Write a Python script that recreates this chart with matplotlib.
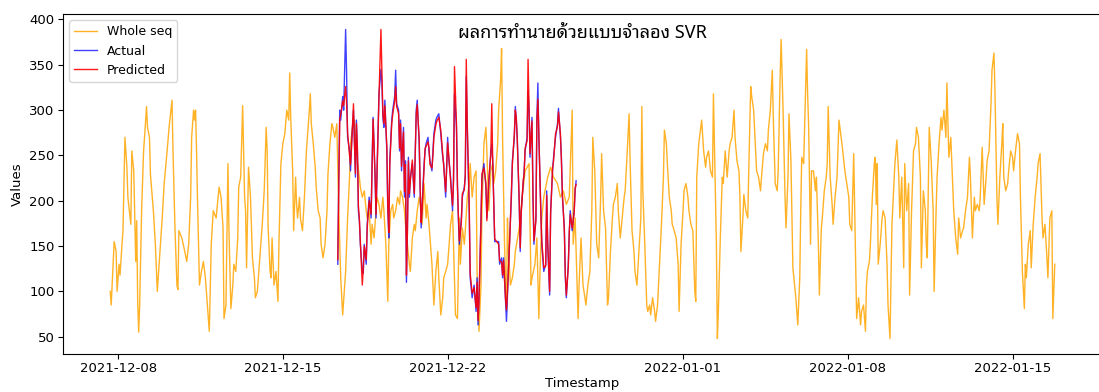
import numpy as np
import pandas as pd
import matplotlib
matplotlib.use("Agg")
import matplotlib.pyplot as plt
from matplotlib import font_manager, ft2font

# ---- data -------------------------------------------------------------
start = pd.Timestamp("2021-12-08 00:00")

# whole sequence: hour offsets from start and values
whole_hours = [
    -8, -7, -4, -2, -1, 1, 2, 4, 5, 7, 9, 10, 13, 14, 16, 18, 19, 20, 21, 22,
    24, 26, 27, 29, 30, 32, 33, 36, 38, 40, 42, 45, 47, 50, 52, 55, 56, 58, 60, 61,
    62, 65, 68, 70, 72, 74, 75, 77, 78, 79, 80, 81, 83, 85, 87, 89, 91, 93, 95, 97,
    100, 101, 103, 105, 107, 108, 110, 112, 113, 115, 117, 118, 120, 122, 123, 125, 127, 129, 130, 131,
    133, 135, 137, 139, 140, 142, 144, 146, 147, 149, 151, 152, 153, 155, 156, 157, 159, 161, 163, 164,
    166, 168, 170, 172, 174, 175, 176, 178, 179, 181, 182, 183, 185, 186, 188, 190, 192, 193, 195, 196,
    197, 199, 201, 202, 204, 206, 207, 209, 211, 213, 214, 216, 218, 219, 221, 223, 225, 227, 229, 231,
    232, 234, 236, 237, 239, 241, 242, 244, 246, 247, 249, 251, 253, 254, 256, 258, 259, 261, 263, 264,
    266, 268, 270, 271, 273, 275, 276, 278, 280, 281, 283, 285, 287, 288, 290, 292, 293, 295, 297, 298,
    300, 302, 303, 305, 307, 309, 310, 312, 314, 315, 317, 319, 320, 322, 324, 326, 327, 329, 331, 332,
    334, 336, 337, 339, 341, 342, 344, 346, 348, 349, 351, 353, 354, 356, 358, 359, 361, 363, 365, 366,
    368, 370, 371, 373, 375, 376, 378, 380, 382, 383, 385, 387, 388, 390, 391, 392, 394, 396, 397, 398,
    400, 402, 404, 405, 409, 412, 415, 419, 421, 422, 425, 427, 429, 430, 432, 434, 438, 441, 444, 448,
    451, 454, 457, 460, 463, 464, 466, 467, 469, 470, 472, 474, 476, 477, 479, 481, 483, 484, 486, 488,
    490, 492, 493, 495, 497, 499, 500, 502, 504, 505, 507, 509, 510, 512, 514, 516, 517, 519, 521, 522,
    524, 526, 527, 529, 531, 533, 534, 535, 537, 539, 540, 542, 543, 545, 547, 548, 550, 552, 554, 556,
    557, 559, 560, 562, 564, 565, 567, 569, 571, 572, 574, 576, 577, 579, 581, 582, 584, 586, 588, 589,
    590, 592, 594, 595, 597, 599, 600, 602, 604, 606, 607, 608, 610, 611, 612, 614, 616, 617, 619, 621,
    623, 624, 626, 628, 629, 631, 633, 634, 635, 637, 638, 640, 642, 643, 645, 646, 648, 650, 651, 653,
    655, 656, 658, 660, 662, 663, 665, 667, 668, 670, 672, 673, 675, 676, 678, 680, 681, 683, 684, 686,
    688, 689, 691, 693, 695, 696, 697, 699, 701, 702, 703, 704, 706, 707, 709, 711, 712, 714, 715, 717,
    718, 720, 722, 723, 724, 726, 728, 729, 731, 733, 735, 738, 741, 745, 746, 748, 750, 751, 753, 755,
    757, 758, 760, 762, 763, 764, 766, 767, 769, 771, 772, 773, 774, 775, 777, 779, 780, 782, 784, 785,
    787, 789, 791, 792, 794, 796, 797, 799, 801, 802, 804, 806, 807, 809, 811, 813, 814, 816, 818, 819,
    821, 823, 824, 825, 827, 829, 831, 832, 834, 835, 837, 839, 840, 842, 844, 845, 847, 849, 851, 852,
    854, 856, 857, 859, 861, 862, 864, 866, 868, 869, 871, 873, 874, 876, 878, 879, 881, 883, 885, 886,
    888, 890, 891, 893, 894, 896, 897, 899, 901, 902, 903, 905, 907, 908, 910, 912, 913, 915, 917, 919,
    920, 922, 924, 925, 926, 928, 930, 931, 933, 935, 937, 938, 940, 942, 943, 945, 947, 948, 950, 952,
    953, 955,
]
whole_values = [
    100, 85, 155, 144, 100, 130, 118, 152, 167, 270, 237, 204, 174, 255, 233, 133, 178, 89, 55, 85,
    189, 255, 270, 304, 281, 270, 229, 189, 152, 100, 133, 181, 219, 255, 281, 311, 255, 170, 107, 102,
    167, 159, 144, 133, 152, 204, 270, 300, 289, 300, 255, 200, 107, 122, 133, 115, 85, 56, 152, 189,
    181, 193, 215, 204, 170, 70, 85, 241, 170, 81, 107, 130, 122, 159, 215, 226, 305, 204, 189, 126,
    237, 204, 137, 115, 93, 100, 130, 159, 174, 211, 281, 255, 170, 122, 115, 159, 107, 122, 89, 152,
    241, 263, 274, 300, 289, 341, 292, 233, 167, 226, 196, 181, 204, 180, 167, 204, 255, 270, 300, 318,
    285, 263, 237, 215, 189, 181, 152, 137, 152, 189, 230, 263, 285, 281, 270, 285, 189, 115, 74, 107,
    122, 181, 226, 263, 281, 289, 270, 244, 226, 215, 204, 211, 189, 181, 189, 152, 174, 159, 189, 204,
    196, 181, 204, 189, 152, 89, 152, 189, 196, 181, 189, 204, 196, 211, 204, 189, 174, 152, 130, 122,
    159, 174, 167, 189, 204, 189, 174, 219, 181, 196, 174, 144, 130, 85, 122, 144, 115, 74, 93, 115,
    122, 130, 144, 174, 189, 152, 74, 70, 181, 130, 170, 152, 167, 204, 219, 241, 204, 226, 233, 122,
    56, 107, 189, 263, 281, 255, 189, 233, 241, 219, 233, 263, 300, 333, 368, 270, 152, 78, 181, 144,
    107, 115, 130, 144, 170, 204, 233, 241, 107, 115, 130, 159, 70, 115, 181, 204, 226, 237, 226, 219,
    204, 211, 196, 204, 300, 152, 181, 144, 70, 107, 159, 107, 93, 85, 107, 122, 189, 270, 233, 152,
    137, 204, 252, 189, 170, 85, 93, 144, 181, 196, 204, 219, 189, 159, 181, 204, 211, 252, 296, 244,
    167, 144, 122, 107, 144, 181, 304, 211, 152, 85, 78, 85, 74, 93, 78, 67, 85, 130, 174, 226,
    278, 263, 241, 204, 189, 174, 167, 159, 130, 78, 152, 189, 211, 219, 204, 189, 174, 167, 100, 89,
    226, 263, 281, 289, 255, 237, 248, 255, 233, 226, 318, 263, 152, 48, 78, 159, 226, 219, 255, 226,
    255, 263, 270, 300, 270, 244, 233, 204, 144, 181, 207, 189, 181, 233, 326, 315, 300, 255, 233, 226,
    211, 226, 252, 263, 255, 278, 300, 344, 292, 219, 211, 233, 337, 378, 300, 204, 170, 226, 296, 244,
    126, 115, 93, 63, 115, 189, 248, 241, 322, 367, 318, 285, 152, 233, 233, 211, 226, 152, 96, 170,
    181, 211, 226, 241, 304, 226, 196, 174, 204, 226, 289, 263, 233, 204, 174, 167, 252, 189, 70, 93,
    63, 78, 85, 56, 107, 122, 133, 152, 204, 241, 248, 196, 241, 130, 152, 181, 189, 181, 130, 85,
    48, 174, 219, 241, 267, 226, 181, 226, 126, 241, 189, 219, 96, 189, 255, 263, 281, 270, 226, 126,
    211, 189, 152, 137, 281, 244, 189, 100, 189, 226, 263, 292, 278, 300, 270, 330, 248, 270, 215, 189,
    159, 141, 181, 159, 167, 170, 189, 204, 248, 226, 159, 204, 189, 196, 189, 204, 259, 196, 226, 244,
    255, 307, 344, 363, 322, 204, 174, 226, 263, 285, 226, 211, 219, 233, 255, 248, 233, 255, 274, 263,
    204, 122, 81, 130, 115, 152, 167, 126, 174, 204, 226, 241, 252, 181, 159, 174, 137, 115, 181, 189,
    70, 130,
]

# test window: hour offsets, actual values and SVR predictions
test_hours = [
    224, 225, 226, 227, 229, 230, 232, 233, 234, 236, 237, 238, 240, 241, 242, 243, 244, 245, 246, 247,
    249, 250, 251, 253, 254, 256, 258, 259, 260, 262, 263, 264, 266, 268, 269, 270, 271, 272, 274, 275,
    276, 277, 279, 280, 282, 283, 284, 286, 287, 288, 289, 291, 292, 293, 294, 295, 296, 297, 298, 300,
    302, 303, 304, 305, 307, 308, 309, 310, 312, 313, 314, 316, 317, 318, 320, 321, 322, 324, 325, 327,
    329, 331, 332, 334, 336, 337, 339, 341, 342, 343, 345, 346, 347, 348, 350, 351, 353, 354, 355, 356,
    358, 359, 361, 363, 365, 366, 367, 368, 370, 371, 373, 375, 376, 378, 380, 381, 382, 384, 388, 389,
    391, 392, 393, 395, 396, 397, 399, 401, 402, 404, 405, 406, 407, 409, 410, 411, 413, 414, 415, 417,
    418, 419, 420, 422, 423, 424, 426, 427, 428, 429, 431, 432, 434, 436, 437, 438, 440, 441, 443, 444,
    446, 448, 449, 451, 452, 453, 455, 456, 457, 459, 460, 461, 463, 465, 466, 467,
]
actual_values = [
    130, 226, 300, 289, 315, 300, 389, 340, 270, 255, 233, 263, 300, 263, 226, 289, 255, 189, 178, 152,
    122, 120, 152, 130, 174, 204, 181, 244, 292, 226, 181, 233, 318, 345, 330, 292, 281, 311, 255, 189,
    159, 244, 289, 300, 315, 344, 307, 300, 255, 289, 233, 281, 204, 244, 110, 170, 248, 204, 226, 241,
    204, 255, 300, 311, 263, 211, 170, 196, 241, 255, 263, 270, 255, 244, 233, 255, 274, 289, 292, 296,
    274, 248, 241, 204, 270, 248, 226, 189, 226, 318, 281, 219, 178, 152, 181, 204, 215, 226, 337, 281,
    189, 115, 93, 107, 78, 115, 63, 93, 181, 226, 241, 215, 181, 219, 255, 262, 244, 155, 155, 130,
    137, 115, 137, 89, 67, 96, 152, 204, 244, 270, 304, 289, 270, 196, 144, 189, 219, 233, 255, 270,
    322, 300, 248, 292, 204, 152, 181, 292, 330, 270, 189, 152, 122, 130, 211, 152, 96, 189, 233, 248,
    270, 285, 302, 270, 248, 204, 170, 115, 93, 130, 163, 189, 167, 189, 211, 222,
]
predicted_values = [
    135, 215, 290, 295, 310, 305, 326, 307, 275, 250, 240, 258, 307, 265, 230, 285, 258, 195, 180, 155,
    107, 125, 150, 135, 170, 200, 185, 240, 290, 230, 185, 230, 315, 389, 344, 295, 285, 305, 260, 195,
    165, 240, 285, 295, 310, 326, 304, 296, 258, 285, 238, 276, 210, 240, 118, 165, 244, 208, 222, 245,
    208, 250, 296, 306, 268, 215, 176, 192, 236, 258, 260, 265, 258, 240, 236, 250, 270, 284, 288, 292,
    278, 252, 238, 210, 264, 252, 222, 195, 220, 348, 285, 215, 182, 156, 176, 208, 212, 230, 356, 286,
    195, 120, 98, 104, 82, 110, 68, 90, 176, 230, 236, 220, 178, 224, 250, 307, 240, 158, 152, 134,
    132, 118, 134, 92, 80, 100, 148, 208, 240, 274, 300, 292, 266, 200, 148, 185, 222, 230, 258, 266,
    356, 305, 252, 288, 208, 156, 178, 288, 312, 274, 185, 156, 126, 128, 206, 156, 100, 185, 236, 244,
    274, 282, 298, 274, 244, 208, 166, 118, 96, 126, 166, 185, 170, 186, 214, 218,
]

title_text = "ผลการทำนายด้วยแบบจำลอง SVR"

whole_time = start + pd.to_timedelta(whole_hours, unit="h")
test_time = start + pd.to_timedelta(test_hours, unit="h")


# ---- fonts ------------------------------------------------------------
def find_thai_family():
    preferred = ["Tahoma", "Noto Sans Thai Looped", "Noto Sans Thai", "Loma",
                 "Garuda", "Sarabun", "Leelawadee UI"]
    found = {}
    for entry in font_manager.fontManager.ttflist:
        try:
            cmap = ft2font.FT2Font(entry.fname).get_charmap()
        except Exception:
            continue
        if 0x0E1C in cmap and 0x0E33 in cmap:
            found.setdefault(entry.name, entry.fname)
    for name in preferred:
        if name in found:
            return name
    return next(iter(found), None)


thai_family = find_thai_family()
title_families = [thai_family, "DejaVu Sans"] if thai_family else ["DejaVu Sans"]

# ---- plot -------------------------------------------------------------
fig = plt.figure(figsize=(10.99, 3.92), dpi=100)
ax = fig.add_axes([63 / 1099, 38 / 392, 1039 / 1099, 340 / 392])

ax.plot(whole_time, whole_values, color="orange", lw=1.0, alpha=0.85, label="Whole seq")
ax.plot(test_time, actual_values, color="blue", lw=1.0, alpha=0.75, label="Actual")
ax.plot(test_time, predicted_values, color="red", lw=1.0, alpha=0.9, label="Predicted")

ax.tick_params(axis="both", labelsize=9.5, pad=2.5)
ax.set_xlabel("Timestamp", fontsize=9.5, labelpad=1)
ax.set_ylabel("Values", fontsize=9.5)
ax.set_title(title_text, family=title_families, fontsize=13, y=0.905)
ax.legend(loc="upper left", fontsize=9, handlelength=1.8)

fig.savefig("out.png", dpi=100)
